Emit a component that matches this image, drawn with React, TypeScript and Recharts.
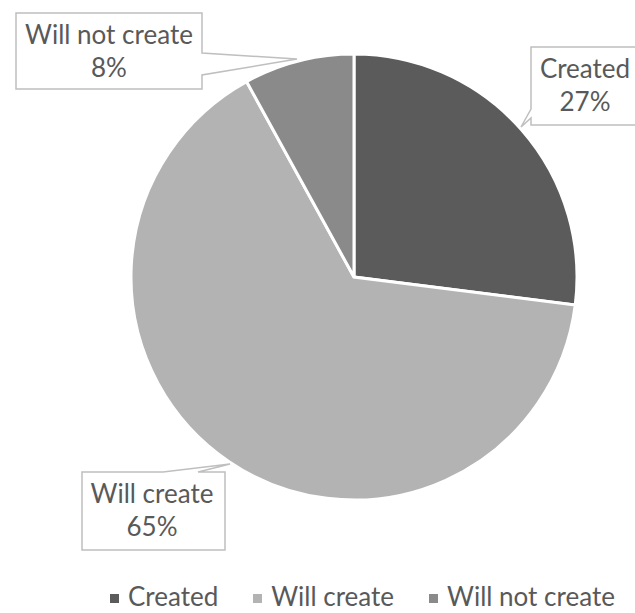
import React from "react";
import { PieChart, Pie, Cell, Legend } from "recharts";

const categories = ["Created", "Will create", "Will not create"];
const shares = [27, 65, 8];
const COLORS = ["#5b5b5b", "#b3b3b3", "#8a8a8a"];

const data = categories.map((name, i) => ({ name, value: shares[i] }));

const FONT = "Lato, 'Open Sans', sans-serif";
const TEXT = "#595959";

// callout boxes, relative to pie center: [x0, y0, x1, y1], tail points, text center
const CALLOUTS = [
  { box: [177, -230, 290, -152], tail: [[177, -168], [167, -150], [177, -159]], side: "left", tx: 231 },
  { box: [-272, 195, -129, 273], tail: [[-191, 195], [-124, 187], [-156, 195]], side: "top", tx: -202 },
  { box: [-338, -264, -152, -188], tail: [[-152, -224], [-57, -218], [-152, -202]], side: "right", tx: -245 },
];

function calloutPath(c: any, cx: number, cy: number) {
  const [x0, y0, x1, y1] = c.box.map((v: number, i: number) => v + (i % 2 === 0 ? cx : cy));
  const t = c.tail.map(([x, y]: number[]) => [x + cx, y + cy]);
  let pts: number[][] = [];
  if (c.side === "left") {
    pts = [[x0, y0], [x1, y0], [x1, y1], [x0, y1], t[2], t[1], t[0]];
  } else if (c.side === "top") {
    pts = [[x0, y0], t[0], t[1], t[2], [x1, y0], [x1, y1], [x0, y1]];
  } else {
    pts = [[x0, y0], [x1, y0], t[0], t[1], t[2], [x1, y1], [x0, y1]];
  }
  return "M" + pts.map((p) => p.join(",")).join("L") + "Z";
}

const renderLabel = (props: any) => {
  const { cx, cy, index, name, value } = props;
  const c = CALLOUTS[index];
  const y0 = c.box[1] + cy;
  return (
    <g key={`lbl-${index}`}>
      <path d={calloutPath(c, cx, cy)} fill="#fff" stroke="#bfbfbf" strokeWidth={1.5} />
      <text x={c.tx + cx} y={y0 + 31} textAnchor="middle" fill={TEXT} fontSize={26} fontFamily={FONT}>
        {name}
      </text>
      <text x={c.tx + cx} y={y0 + 64} textAnchor="middle" fill={TEXT} fontSize={26} fontFamily={FONT}>
        {`${value}%`}
      </text>
    </g>
  );
};

const renderLegend = () => (
  <div style={{ display: "flex", gap: 35, fontFamily: FONT, fontSize: 26, color: TEXT, paddingLeft: 110 }}>
    {categories.map((c, i) => (
      <div key={c} style={{ display: "flex", alignItems: "center" }}>
        <span style={{ display: "inline-block", width: 9, height: 9, background: COLORS[i], marginRight: 9, marginTop: 4 }} />
        <span>{c}</span>
      </div>
    ))}
  </div>
);

export default function App() {
  return (
    <div style={{ position: "absolute", left: 0, top: 0, width: 635, height: 613, background: "#fff" }}>
      <PieChart width={635} height={613}>
        <Pie
          data={data}
          dataKey="value"
          nameKey="name"
          cx={349}
          cy={272}
          outerRadius={223}
          startAngle={90}
          endAngle={-270}
          stroke="#fff"
          strokeWidth={3}
          label={renderLabel}
          labelLine={false}
          isAnimationActive={false}
        >
          {data.map((d, i) => (
            <Cell key={d.name} fill={COLORS[i]} />
          ))}
        </Pie>
        <Legend content={renderLegend} wrapperStyle={{ top: 580, left: 0, width: 635 }} />
      </PieChart>
    </div>
  );
}
